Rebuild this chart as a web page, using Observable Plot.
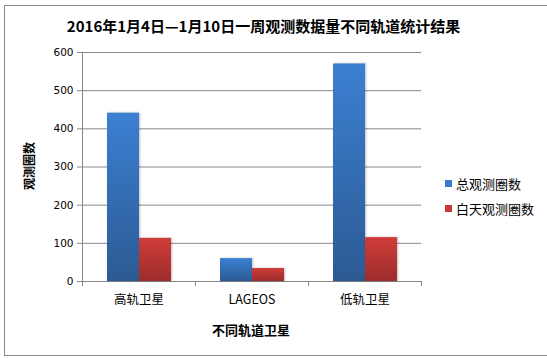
<!DOCTYPE html>
<html>
<head>
<meta charset="utf-8">
<script src="https://cdn.jsdelivr.net/npm/d3@7"></script>
<script src="https://cdn.jsdelivr.net/npm/@observablehq/plot@0.6"></script>
<style>
  body { margin: 0; background: #fff; }
  #wrap { position: relative; width: 547px; height: 358px; overflow: hidden; background: #fff; font-family: "Noto Sans CJK SC", "Noto Sans", sans-serif; color: #000; }
  #wrap svg { position: absolute; left: 0; top: 0; }
  .border { position: absolute; left: 4px; top: 5px; width: 600px; height: 351px; box-sizing: border-box; border: 1px solid #888; }
  .title { position: absolute; left: 0; width: 527px; top: 17px; text-align: center; font-size: 15px; font-weight: bold; line-height: 17px; white-space: nowrap; }
  .ytitle { position: absolute; left: 29px; top: 166px; transform: translate(-50%, -50%) rotate(-90deg); font-size: 12px; font-weight: bold; white-space: nowrap; line-height: 14px; }
  .xtitle { position: absolute; left: 251px; top: 329px; transform: translate(-50%, -50%); font-size: 13px; font-weight: bold; white-space: nowrap; line-height: 15px; }
  .legend { position: absolute; left: 445px; font-size: 13px; line-height: 15px; white-space: nowrap; display: flex; align-items: center; }
  .legend i { display: inline-block; width: 7px; height: 7px; margin-right: 4px; }
</style>
</head>
<body>
<div id="wrap"></div>
<script>
const categories = ["高轨卫星", "LAGEOS", "低轨卫星"];
const seriesNames = ["总观测圈数", "白天观测圈数"];
const totalCounts = [441, 60, 570];
const daytimeCounts = [113, 34, 115];
const yTicks = [0, 100, 200, 300, 400, 500, 600];
const titleText = "2016年1月4日—1月10日一周观测数据量不同轨道统计结果";
const yTitle = "观测圈数";
const xTitle = "不同轨道卫星";
const legendColors = ["#3b7bcb", "#c63b38"];

const data = categories.flatMap((c, i) => [
  {category: c, series: seriesNames[0], value: totalCounts[i]},
  {category: c, series: seriesNames[1], value: daytimeCounts[i]}
]);

const wrap = document.getElementById("wrap");
const border = document.createElement("div");
border.className = "border";
wrap.appendChild(border);

const plot = Plot.plot({
  width: 547,
  height: 358,
  marginLeft: 81,
  marginRight: 125,
  marginTop: 52,
  marginBottom: 77,
  style: {background: "none", fontFamily: "'Noto Sans CJK SC', sans-serif", color: "#000", overflow: "visible"},
  fx: {domain: categories, padding: 0, axis: null},
  x: {domain: seriesNames, paddingInner: 0, paddingOuter: 0.75, axis: null},
  y: {domain: [0, 600], axis: null},
  color: {domain: seriesNames, range: ["url(#gradBlue)", "url(#gradRed)"]},
  marks: [
    Plot.ruleY(yTicks, {y: d => d, stroke: "#878787", strokeWidth: 1}),
    Plot.axisY({ticks: yTicks, tickSize: 5, tickPadding: 4, stroke: "#878787", strokeOpacity: 1, label: null, fontSize: 10.5, fontFamily: "DejaVu Sans", tickFormat: d => String(d)}),
    Plot.barY(data, {fx: "category", x: "series", y: "value", fill: "series"}),
    Plot.axisFx({domain: categories, anchor: "bottom", tickSize: 0, tickPadding: 14, label: null, fontSize: 12.5})
  ]
});
wrap.appendChild(plot);

// gradients for the bar fills
const svg = d3.select(plot);
const defs = svg.insert("defs", ":first-child");
const grads = [["gradBlue", "#3b80d2", "#2c5a93"], ["gradRed", "#d03d3a", "#9b2d2b"]];
for (const [id, top, bottom] of grads) {
  const g = defs.append("linearGradient").attr("id", id).attr("x1", 0).attr("y1", 0).attr("x2", 0).attr("y2", 1);
  g.append("stop").attr("offset", "0%").attr("stop-color", top);
  g.append("stop").attr("offset", "100%").attr("stop-color", bottom);
}
svg.selectAll("rect").style("filter", "drop-shadow(1px 0px 1px rgba(0,0,0,0.25))");

// axis lines and category boundary ticks, from the plot's own scales
const y = plot.scale("y");
const fx = plot.scale("fx");
const x0 = fx.apply(categories[0]);
const bounds = categories.map(c => fx.apply(c)).concat([fx.apply(categories[categories.length - 1]) + fx.bandwidth]);
const axisG = svg.append("g").attr("stroke", "#878787").attr("stroke-width", 1);
axisG.append("line").attr("x1", x0 + 0.5).attr("x2", x0 + 0.5).attr("y1", y.apply(600)).attr("y2", y.apply(0) + 5);
for (const b of bounds) {
  axisG.append("line").attr("x1", b + 0.5).attr("x2", b + 0.5).attr("y1", y.apply(0)).attr("y2", y.apply(0) + 5);
}

// titles and legend
const t = document.createElement("div"); t.className = "title"; t.textContent = titleText; wrap.appendChild(t);
const yt = document.createElement("div"); yt.className = "ytitle"; yt.textContent = yTitle; wrap.appendChild(yt);
const xt = document.createElement("div"); xt.className = "xtitle"; xt.textContent = xTitle; wrap.appendChild(xt);
seriesNames.forEach((s, i) => {
  const item = document.createElement("div");
  item.className = "legend";
  item.style.top = (176 + i * 25) + "px";
  const sw = document.createElement("i");
  sw.style.background = legendColors[i];
  item.appendChild(sw);
  item.appendChild(document.createTextNode(s));
  wrap.appendChild(item);
});
</script>
</body>
</html>
